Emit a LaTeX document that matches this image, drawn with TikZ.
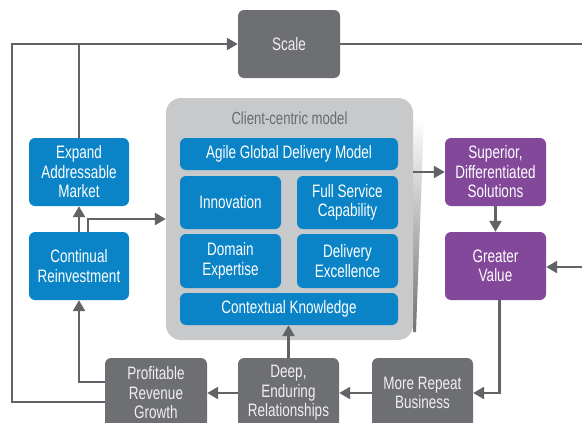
\documentclass[tikz,border=0pt]{standalone}
\usepackage{fontspec}
\newfontfamily\cond{Liberation Sans}[FakeStretch=0.75]
\usetikzlibrary{arrows.meta}
\definecolor{cblue}{HTML}{0A84C6}
\definecolor{cpurple}{HTML}{834899}
\definecolor{cgray}{HTML}{6E6F72}
\definecolor{cline}{HTML}{626366}
\definecolor{ccont}{HTML}{C8C9CB}
\definecolor{ctext}{HTML}{6A6B6E}
\tikzset{
  box/.style={rounded corners=6pt, align=center, inner sep=0pt,
    font=\cond\fontsize{18}{19.5}\selectfont, text=white},
  bluebox/.style={box, fill=cblue},
  purplebox/.style={box, fill=cpurple},
  graybox/.style={box, fill=cgray, text=white!88!gray},
  conn/.style={draw=cline, line width=2.4pt},
  arr/.style={conn, -{Triangle[length=11pt,width=12pt]}},
}
\newcommand{\boxat}[6]{% style, name, x1, y1, x2, y2, text
  \node[#1, minimum width={#5-#3}, minimum height={#6-#4}] (#2) at ({(#3+#5)/2},{(#4+#6)/2})}
\begin{document}
\begin{tikzpicture}[x=1pt,y=-1pt]
\useasboundingbox (0,0) rectangle (582,423);
% container shadow
\shade[top color=white, bottom color=black!55] (413,118) -- (424,118) -- (416,332) -- (413,332) -- cycle;
% container
\node[fill=ccont, rounded corners=15pt, minimum width=247pt, minimum height=242pt, inner sep=0pt] (cc) at (289.5,219) {};
\node[font=\cond\fontsize{17.5}{19}\selectfont, text=ctext] (cctitle) at (289.5,118) {Client-centric model};
% boxes
\boxat{graybox}{scale}{238}{10}{340}{78} {Scale};
\boxat{bluebox}{expand}{29}{138}{129}{206} {Expand\\Addressable\\Market};
\boxat{bluebox}{cont}{29}{232}{129}{300} {Continual\\Reinvestment};
\boxat{bluebox}{agile}{180}{138}{398}{170} {Agile Global Delivery Model};
\boxat{bluebox}{innov}{180}{176}{281}{229} {Innovation};
\boxat{bluebox}{full}{297}{176}{398}{229} {Full Service\\Capability};
\boxat{bluebox}{domain}{180}{234}{281}{288} {Domain\\Expertise};
\boxat{bluebox}{deliv}{297}{234}{398}{288} {Delivery\\Excellence};
\boxat{bluebox}{ctx}{180}{293}{398}{325} {Contextual Knowledge};
\boxat{purplebox}{sup}{445}{138}{546}{206} {Superior,\\Differentiated\\Solutions};
\boxat{purplebox}{greater}{445}{232}{546}{300} {Greater\\Value};
\boxat{graybox}{more}{372}{358}{473}{428} {More Repeat\\Business};
\boxat{graybox}{deep}{238}{358}{339}{428} {Deep,\\Enduring\\Relationships};
\boxat{graybox}{prof}{105}{358}{207}{428} {Profitable\\Revenue\\Growth};
% corner coordinates
\coordinate (tl) at (12,44);
\coordinate (bl) at (12,402);
\coordinate (tr) at (600,44);
\coordinate (rr) at (600,267);
% connectors
\draw[arr] ([yshift=-9pt]prof.west) -- (bl) -- (tl) -- (scale.west);
\draw[conn] (expand.north) -- (expand.north |- tl);
\draw[arr] (scale.east) -- (tr) -- (rr) -- (greater.east |- rr);
\draw[arr] (cont.north) -- (expand.south);
\draw[arr] ([xshift=9pt]cont.north) |- (cc.west);
\draw[arr] (cc.east |- sup.west) -- (sup.west);
\draw[arr] (sup.south) -- (greater.north);
\draw[arr] ([xshift=4pt]greater.south) |- (more.east);
\draw[arr] (more.west) -- (deep.east);
\draw[arr] (deep.west) -- (prof.east);
\draw[arr] (deep.north) -- (ctx.south -| deep.north);
\draw[arr] ([yshift=11pt]prof.west) -| (cont.south);
\end{tikzpicture}
\end{document}
